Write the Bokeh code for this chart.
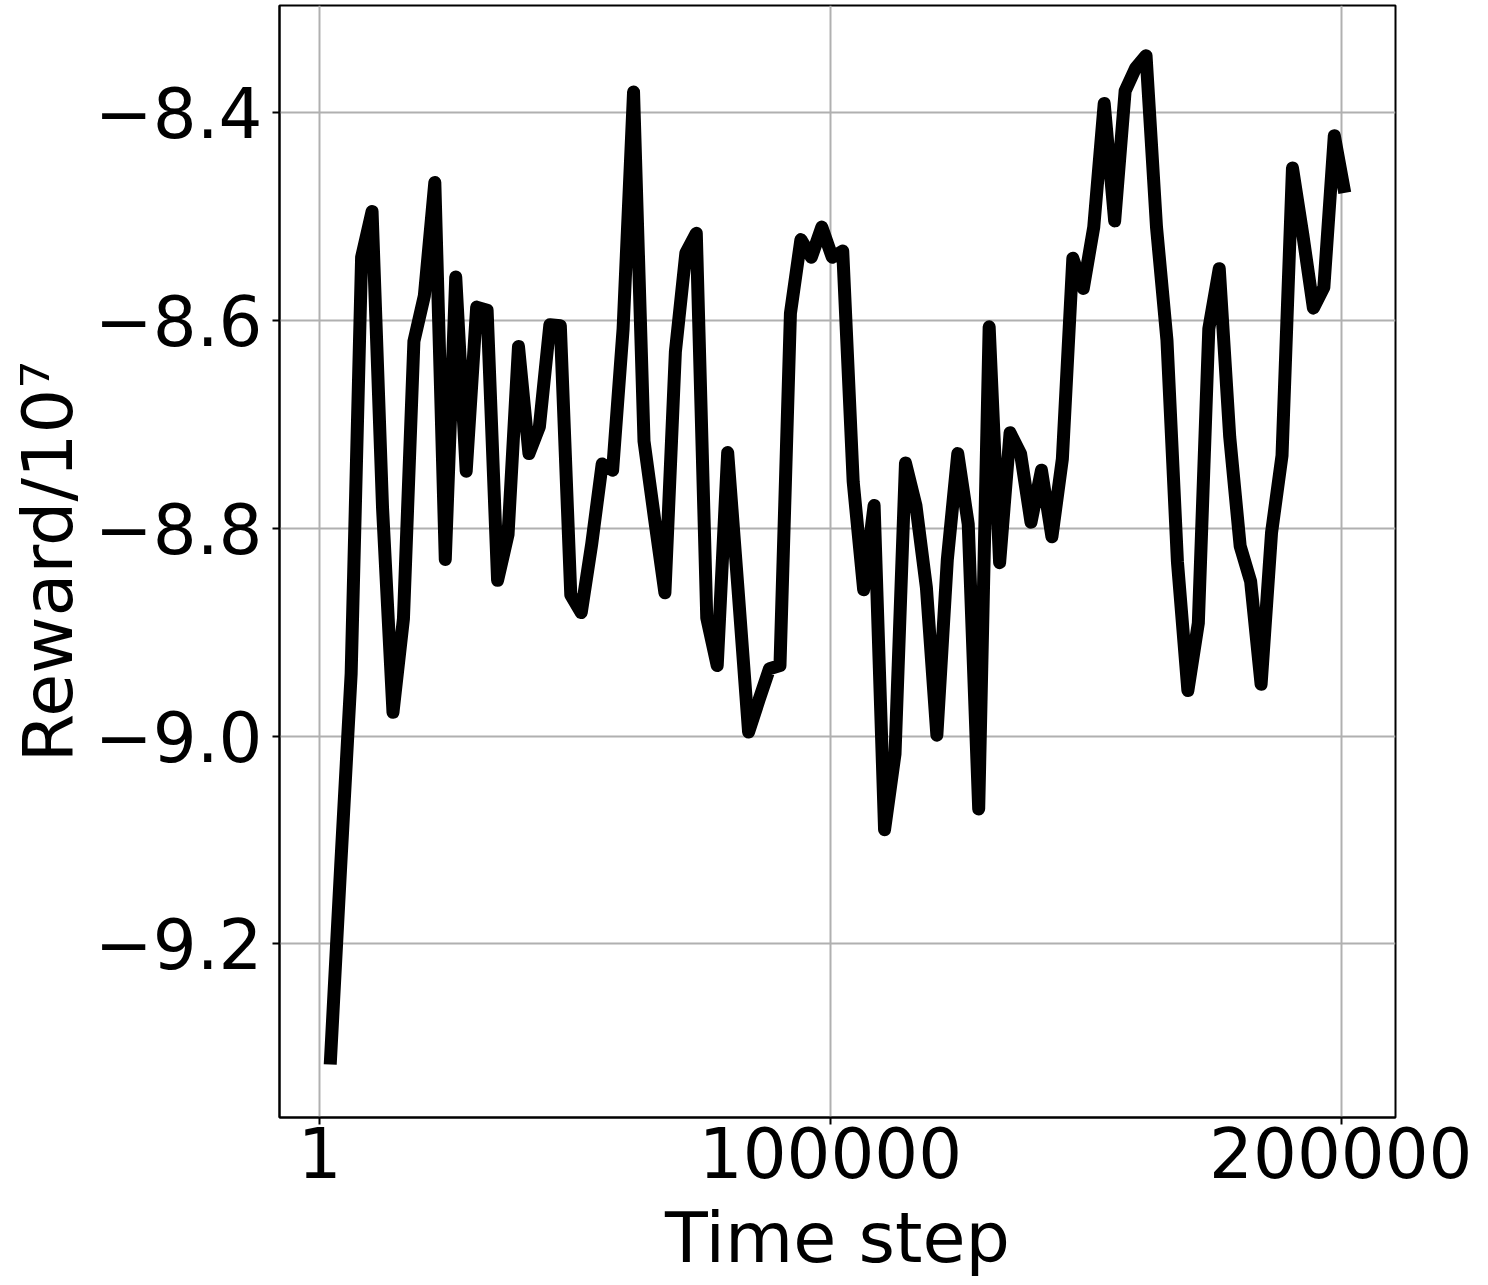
from bokeh.plotting import figure
from bokeh.models import FixedTicker, Range1d
from bokeh.embed import file_html
from bokeh.resources import INLINE

time_steps = [2048, 4096, 6144, 8192, 10240, 12288, 14336, 16384, 18432, 20480,
              22528, 24576, 26624, 28672, 30720, 32768, 34816, 36864, 38912, 40960,
              43008, 45056, 47104, 49152, 51200, 53248, 55296, 57344, 59392, 61440,
              63488, 65536, 67584, 69632, 71680, 73728, 75776, 77824, 79872, 81920,
              83968, 86016, 88064, 90112, 92160, 94208, 96256, 98304, 100352, 102400,
              104448, 106496, 108544, 110592, 112640, 114688, 116736, 118784, 120832, 122880,
              124928, 126976, 129024, 131072, 133120, 135168, 137216, 139264, 141312, 143360,
              145408, 147456, 149504, 151552, 153600, 155648, 157696, 159744, 161792, 163840,
              165888, 167936, 169984, 172032, 174080, 176128, 178176, 180224, 182272, 184320,
              186368, 188416, 190464, 192512, 194560, 196608, 198656, 200704]

reward = [-9.316, -9.125, -8.94, -8.539, -8.495, -8.78, -8.977, -8.887, -8.62, -8.576,
          -8.467, -8.83, -8.558, -8.745, -8.587, -8.59, -8.85, -8.806, -8.625, -8.728,
          -8.702, -8.604, -8.605, -8.864, -8.881, -8.815, -8.738, -8.744, -8.608, -8.380,
          -8.716, -8.79, -8.862, -8.63, -8.535, -8.516, -8.886, -8.932, -8.727, -8.86,
          -8.996, -8.965, -8.935, -8.932, -8.593, -8.522, -8.539, -8.51, -8.539, -8.533,
          -8.755, -8.859, -8.778, -9.090, -9.017, -8.737, -8.778, -8.857, -8.999, -8.830,
          -8.728, -8.796, -9.070, -8.606, -8.833, -8.708, -8.728, -8.794, -8.744, -8.808,
          -8.733, -8.540, -8.569, -8.51, -8.391, -8.504, -8.379, -8.357, -8.345, -8.51,
          -8.619, -8.832, -8.956, -8.891, -8.608, -8.550, -8.712, -8.817, -8.851, -8.950,
          -8.804, -8.730, -8.453, -8.518, -8.588, -8.568, -8.422, -8.477]

x_ticks = [1, 100000, 200000]
x_tick_labels = ["1", "100000", "200000"]
y_ticks = [-9.2, -9.0, -8.8, -8.6, -8.4]
y_tick_labels = ["\u22129.2", "\u22129.0", "\u22128.8", "\u22128.6", "\u22128.4"]

FONT = "DejaVu Sans"

p = figure(width=1472, height=1281, output_backend="svg", toolbar_location=None,
           x_range=Range1d(-7885, 210637), y_range=Range1d(-9.367, -8.2967),
           min_border_left=279, min_border_right=77, min_border_top=5,
           min_border_bottom=164)

p.line(time_steps, reward, line_color="black", line_width=13,
       line_join="round", line_cap="butt")

p.xaxis.ticker = FixedTicker(ticks=x_ticks)
p.yaxis.ticker = FixedTicker(ticks=y_ticks)
p.xaxis.major_label_overrides = dict(zip(x_ticks, x_tick_labels))
p.yaxis.major_label_overrides = dict(zip(y_ticks, y_tick_labels))

p.xaxis.axis_label = "Time step"
p.yaxis.axis_label = "Reward/10\u2077"

for ax in (p.xaxis, p.yaxis):
    ax.major_label_text_font = FONT
    ax.major_label_text_font_size = "69px"
    ax.major_label_text_color = "black"
    ax.axis_label_text_font = FONT
    ax.axis_label_text_font_size = "70px"
    ax.axis_label_text_font_style = "normal"
    ax.axis_label_text_color = "black"
    ax.major_tick_out = 7
    ax.major_tick_in = 0
    ax.major_tick_line_color = "black"
    ax.major_tick_line_width = 2
    ax.minor_tick_line_color = None
    ax.axis_line_color = "black"
    ax.axis_line_width = 2

p.xaxis.major_label_standoff = 2
p.yaxis.major_label_standoff = 10
p.xaxis.axis_label_standoff = 16
p.yaxis.axis_label_standoff = 3

p.xgrid.grid_line_color = "#b0b0b0"
p.ygrid.grid_line_color = "#b0b0b0"
p.xgrid.grid_line_width = 2
p.ygrid.grid_line_width = 2

p.outline_line_color = "black"
p.outline_line_width = 2
p.outline_line_alpha = 1
p.background_fill_color = "white"
p.border_fill_color = "white"

open("out.html", "w").write(file_html(p, INLINE))
